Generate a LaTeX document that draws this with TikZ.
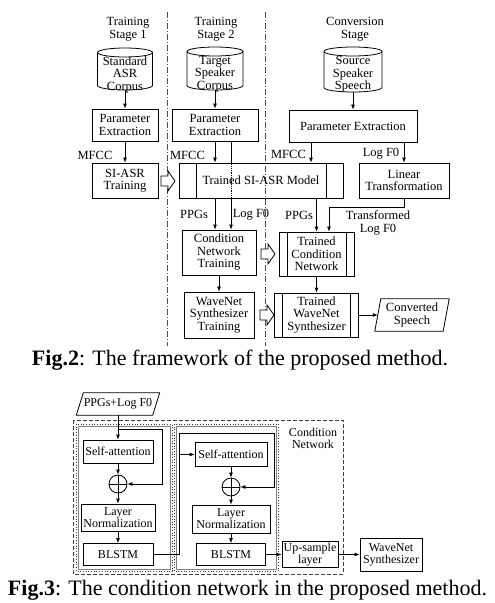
\documentclass[tikz,border=0pt]{standalone}
\usepackage{fontspec}
\setmainfont{Liberation Serif}
\usetikzlibrary{arrows.meta,calc}
\newcommand\mycyl[4]{%
  \draw[line width=0.8pt] (#1,#2+4.5) ellipse [x radius=#4pt, y radius=4.5pt];
  \draw[line width=0.8pt] (#1-#4,#2+4.5) -- (#1-#4,#3-4.5) arc[start angle=180, end angle=360, x radius=#4pt, y radius=4.5pt] -- (#1+#4,#2+4.5);
}
\newcommand\parabox[2]{\draw[line width=0.8pt] ([xshift=-#2]#1.south west) -- ([xshift=#2]#1.north west) -- ([xshift=#2]#1.north east) -- ([xshift=-#2]#1.south east) -- cycle;}
\newcommand\hollowarr[2]{\draw[line width=0.8pt, fill=white] (#1,#2-5) -- (#1+7,#2-5) -- (#1+7,#2-10) -- (#1+14,#2) -- (#1+7,#2+10) -- (#1+7,#2+5) -- (#1,#2+5) -- cycle;}
\begin{document}
\begin{tikzpicture}[x=1pt,y=-1pt,
 every node/.style={inner sep=0pt, align=center},
 f2/.style={font=\fontsize{12.5}{12.5}\selectfont},
 f3/.style={font=\fontsize{12}{12}\selectfont},
 box/.style={draw, line width=0.8pt},
 proc/.style={box, path picture={\draw[line width=0.8pt] ([xshift=#1]path picture bounding box.north west) -- ([xshift=#1]path picture bounding box.south west); \draw[line width=0.8pt] ([xshift=-#1]path picture bounding box.north east) -- ([xshift=-#1]path picture bounding box.south east);}},
 addc/.style={draw, circle, minimum size=18pt, line width=0.8pt, path picture={\draw[line width=0.8pt] (path picture bounding box.north) -- (path picture bounding box.south) (path picture bounding box.west) -- (path picture bounding box.east);}},
 arr/.style={-{Latex[length=5pt,width=4pt]}, line width=0.8pt},
 ln/.style={line width=0.8pt},
 dashdot/.style={line width=0.7pt, dash pattern=on 6pt off 2pt on 1pt off 2pt, black!70},
 dashbox/.style={line width=0.8pt, dash pattern=on 4pt off 2pt, black!75},
 dotbox/.style={line width=0.7pt, dotted, black!80},
 captxt/.style={font=\fontsize{22}{22}\selectfont}
]
\useasboundingbox (0,0) rectangle (495,603);

% ---------- Fig.2 ----------
\draw[dashdot] (167,12) -- (167,346);
\draw[dashdot] (265,12) -- (265,346);

\node[f2] (t1) at (128,29) {Training\\Stage 1};
\node[f2] (t2) at (216,29) {Training\\Stage 2};
\node[f2] (t3) at (355,29) {Conversion\\Stage};

\mycyl{125}{48}{90}{27.5}
\node[f2] (c1) at (125,74.5) {Standard\\ASR\\Corpus};
\coordinate (c1b) at (125,90);
\mycyl{215}{47}{90}{28}
\node[f2] (c2) at (215,74) {Target\\Speaker\\Corpus};
\coordinate (c2b) at (215,90);
\mycyl{353}{47}{92}{29}
\node[f2] (c3) at (353,74.5) {Source\\Speaker\\Speech};
\coordinate (c3b) at (353,92);

\node[f2,box,minimum width=66pt,minimum height=32pt] (pe1) at (125,125) {Parameter\\Extraction};
\node[f2,box,minimum width=86pt,minimum height=32pt] (pe2) at (215,125) {Parameter\\Extraction};
\node[f2,box,minimum width=128pt,minimum height=32pt] (pe3) at (353,126) {Parameter Extraction};
\node[f2,box,minimum width=66pt,minimum height=35pt] (sit) at (125,180.5) {SI-ASR\\Training};
\node[f2,proc=17pt,minimum width=164pt,minimum height=35pt] (tsi) at (261,180.5) {Trained SI-ASR Model};
\node[f2,box,minimum width=90pt,minimum height=35pt] (lt) at (404,180.5) {Linear\\Transformation};
\node[f2,box,minimum width=74pt,minimum height=45pt] (cnt) at (219,252.5) {Condition\\Network\\Training};
\node[f2,proc=8pt,minimum width=75pt,minimum height=44pt] (tcn) at (316.5,254) {Trained\\Condition\\Network};
\node[f2,box,minimum width=70pt,minimum height=46pt] (wst) at (219,315) {WaveNet\\Synthesizer\\Training};
\node[f2,proc=8pt,minimum width=84pt,minimum height=44pt] (tws) at (316.5,315) {Trained\\WaveNet\\Synthesizer};
\node[f2,minimum width=68pt,minimum height=32pt] (cs) at (412,315) {Converted\\Speech};
\parabox{cs}{3pt}

\draw[arr] (c1b) -- (c1b |- pe1.north);
\draw[arr] (pe1) -- (sit);
\draw[arr] (c2b) -- (c2b |- pe2.north);
\draw[arr] (pe2.south) -- (pe2.south |- tsi.north);
\coordinate (lf) at ([xshift=16pt]pe2.south);
\draw[ln] (lf) -- (lf |- tsi.north);
\draw[ln, densely dotted] (lf |- tsi.north) -- (lf |- tsi.south);
\draw[arr] (lf |- tsi.south) -- (lf |- cnt.north);
\draw[arr] (pe2.south |- tsi.south) -- (pe2.south |- cnt.north);
\draw[arr] (c3b) -- (c3b |- pe3.north);
\coordinate (mf) at ([xshift=-42pt]pe3.south);
\draw[arr] (mf) -- (mf |- tsi.north);
\draw[arr] (lt.north |- pe3.south) -- (lt.north);
\draw[arr] (tcn.north |- tsi.south) -- (tcn.north);
\coordinate (bend) at (404,207);
\coordinate (tf) at ([xshift=12.5pt]tcn.north);
\draw[arr] (lt.south) -- (bend) -| (tf);
\draw[arr] (cnt) -- (wst);
\draw[arr] (tcn) -- (tws);
\draw[arr] (tws) -- (cs.west);

\node[f2] (l1) at (95,155) {MFCC};
\node[f2] (l2) at (187.5,155) {MFCC};
\node[f2] (l3) at (288.5,154) {MFCC};
\node[f2] (l4) at (381,154) {Log F0};
\node[f2] (l5) at (194,214) {PPGs};
\node[f2] (l6) at (251,215) {Log F0};
\node[f2] (l7) at (299,215) {PPGs};
\node[f2] (l8) at (378,223) {Transformed\\Log F0};

\hollowarr{161}{181}
\hollowarr{261}{254}
\hollowarr{260}{315}

\node[captxt] (cap2) at (240,360) {\textbf{Fig.2}: The framework of the proposed method.};

% ---------- Fig.3 ----------
\node[f3, minimum width=76pt, minimum height=22pt] (pin) at (118,404) {PPGs+Log F0};
\parabox{pin}{3.5pt}
\draw[dashbox] (73,420) rectangle (343,574);
\draw[dotbox] (76,424) rectangle (172,571);
\draw[line width=0.4pt, gray] (78,426) rectangle (170,569);
\draw[dotbox] (174,424) rectangle (278,571);
\draw[line width=0.4pt, gray] (176,426) rectangle (276,569);
\node[f3] (cnl) at (313,438.5) {Condition\\Network};

\node[f3,box,minimum width=70pt,minimum height=23pt] (sa1) at (118,451.5) {Self-attention};
\node[addc] (ad1) at (118,484) {};
\node[f3,box,minimum width=74pt,minimum height=27pt] (ln1) at (118,517.5) {Layer\\Normalization};
\node[f3,box,minimum width=70pt,minimum height=22pt] (bl1) at (118,554.5) {BLSTM};

\node[f3,box,minimum width=72pt,minimum height=24pt] (sa2) at (231,454.5) {Self-attention};
\node[addc] (ad2) at (231,487) {};
\node[f3,box,minimum width=78pt,minimum height=28pt] (ln2) at (231,519) {Layer\\Normalization};
\node[f3,box,minimum width=69pt,minimum height=22pt] (bl2) at (231,554.5) {BLSTM};

\node[f3,box,minimum width=56pt,minimum height=26pt] (up) at (310,554.5) {Up-sample\\layer};
\node[f3,box,minimum width=62pt,minimum height=33pt] (wn) at (391,554.5) {WaveNet\\Synthesizer};

\draw[arr] (pin) -- (sa1);
\coordinate (r1a) at (118,429);
\coordinate (r1b) at (162,429);
\draw[arr] (r1a) -- (r1b) |- (ad1.east);
\draw[arr] (sa1) -- (ad1);
\draw[arr] (ad1) -- (ln1);
\draw[arr] (ln1) -- (bl1);
\coordinate (j2) at (179,433);
\coordinate (r2b) at (274,433);
\draw[ln] (bl1.east) -| (j2);
\draw[arr] (j2) -- (r2b) |- (ad2.east);
\draw[arr] (j2 |- sa2.west) -- (sa2.west);
\draw[arr] (sa2) -- (ad2);
\draw[arr] (ad2) -- (ln2);
\draw[arr] (ln2) -- (bl2);
\draw[arr] (bl2) -- (up);
\draw[arr] (up) -- (wn);

\node[captxt] (cap3) at (247.5,590) {\textbf{Fig.3}: The condition network in the proposed method.};
\end{tikzpicture}
\end{document}
